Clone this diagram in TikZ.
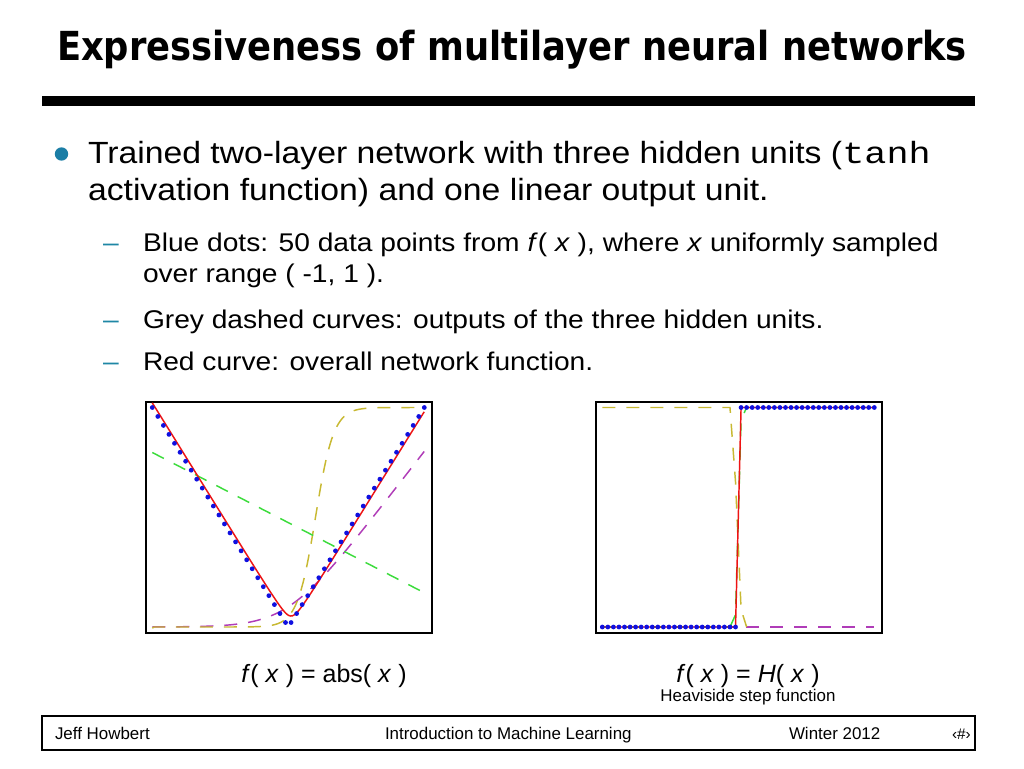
\documentclass[tikz,border=0pt]{standalone}
\usepackage{fontspec}
\usepackage{graphicx}
\setmainfont{Liberation Sans}
\newfontfamily\titlefont{DejaVu Sans}
\newfontfamily\bodyfont{Liberation Sans}[FakeStretch=1.1]
\newfontfamily\codefont{Liberation Mono}[FakeStretch=1.2]
\definecolor{bulletblue}{RGB}{27,126,166}
\definecolor{dashteal}{RGB}{30,135,165}
\definecolor{yelc}{RGB}{200,185,50}
\definecolor{magc}{RGB}{176,60,184}
\definecolor{grnc}{RGB}{60,220,60}
\definecolor{redc}{RGB}{238,20,20}
\definecolor{dotc}{RGB}{16,16,224}
\tikzset{
  txt/.style={anchor=base west, inner sep=0pt, outer sep=0pt},
  ctxt/.style={anchor=base, inner sep=0pt, outer sep=0pt},
  mainfont/.style={font=\bodyfont\fontsize{23}{27}\selectfont},
  subfont/.style={font=\bodyfont\fontsize{19.2}{23}\selectfont},
  capfont/.style={font=\fontsize{18.75}{22}\selectfont},
  smallfont/.style={font=\fontsize{12.7}{15}\selectfont},
  frame/.style={draw=black, line width=1.1pt},
  hid/.style={line width=1.1pt, dash pattern=on 9.75pt off 8.25pt},
  netc/.style={draw=redc, line width=1.1pt},
  dot/.style={fill=dotc}
}
\begin{document}
\begin{tikzpicture}[x=0.75pt, y=-0.75pt]
\useasboundingbox (0,0) rectangle (1024,768);
\fill[white] (0,0) rectangle (1024,768);

% title
\node[txt] (title) at (57,60) {\resizebox{682.5pt}{\height}{\titlefont\bfseries\fontsize{30}{34}\selectfont Expressiveness of multilayer neural networks}};
\fill[black] (42,96) rectangle (975,106);

% bullets
\fill[bulletblue] (61.5,154) circle[radius=5pt];
\node[txt, mainfont] (l1) at (88,163.3) {Trained two-layer network with three hidden units ({\codefont tanh}};
\node[txt, mainfont] (l2) at (88,200) {activation function) and one linear output unit.};

\node[txt, subfont, text=dashteal] (d1) at (103,251.7) {–};
\node[txt, subfont] (s1) at (143,251.7) {Blue dots: 50 data points from \textit{f}( \textit{x} ), where \textit{x} uniformly sampled};
\node[txt, subfont] (s2) at (143,282.7) {over range ( -1, 1 ).};
\node[txt, subfont, text=dashteal] (d3) at (103,328.3) {–};
\node[txt, subfont] (s3) at (143,328.3) {Grey dashed curves: outputs of the three hidden units.};
\node[txt, subfont, text=dashteal] (d4) at (103,370) {–};
\node[txt, subfont] (s4) at (143,370) {Red curve: overall network function.};

% left plot
\draw[frame] (146,402) rectangle (432,633);
\begin{scope}[shift={(288.3,627)}, x=102pt, y=164.625pt]
  \draw[hid, magc] plot[domain=-1:1, samples=120] (\x, {0.13333*ln(1+exp(6*\x))});
  \draw[hid, yelc] plot[domain=-1:1, samples=160] (\x, {0.5+0.5*tanh(7.5*(\x-0.2))});
  \draw[hid, grnc] plot[domain=-1:1, samples=20] (\x, {0.4755-0.3195*\x});
  \draw[netc] plot[domain=-1:1, samples=160] (\x, {sqrt((\x-0.02)^2+0.0025)});
  \foreach \i in {0,...,49} {
    \fill[dot] ({-1+2*\i/49},{abs(-1+2*\i/49)}) circle[radius=1.8pt];
  }
\end{scope}

% right plot
\draw[frame] (596,402) rectangle (882,633);
\begin{scope}[shift={(738.3,627)}, x=102pt, y=164.625pt]
  \draw[hid, magc] (-1,0) -- (1,0);
  \draw[hid, yelc] (-1,1) -- (-0.06122,1) -- (-0.020408,0.66) -- (0.020408,0.08) -- (0.061224,0);
  \draw[hid, grnc] (-1,0) -- (-0.06122,0);
  \draw[hid, grnc] (-0.06122,0) -- (-0.020408,0.056) -- (0.020408,0.945) -- (0.061224,1) -- (1,1);
  \draw[netc] (-1,0) -- (-0.020408,0) -- (0.020408,1) -- (1,1);
  \foreach \i in {0,...,24} {
    \fill[dot] ({-1+2*\i/49},0) circle[radius=1.8pt];
  }
  \foreach \i in {25,...,49} {
    \fill[dot] ({-1+2*\i/49},1) circle[radius=1.8pt];
  }
\end{scope}

% captions
\node[ctxt, capfont] (c1) at (324,682) {\textit{f}( \textit{x} ) = abs( \textit{x} )};
\node[ctxt, capfont] (c2) at (748,682) {\textit{f}( \textit{x} ) = \textit{H}( \textit{x} )};
\node[ctxt, smallfont] (c3) at (748,701) {Heaviside step function};

% footer
\draw[black, line width=1pt] (42,716) rectangle (975,750);
\node[txt, smallfont] (f1) at (55,739) {Jeff Howbert};
\node[txt, smallfont] (f2) at (385,739) {Introduction to Machine Learning};
\node[txt, smallfont] (f3) at (789,739) {Winter 2012};
\node[txt, font=\fontsize{11.5}{14}\selectfont] (f4) at (952,739) {‹\#›};
\end{tikzpicture}
\end{document}
